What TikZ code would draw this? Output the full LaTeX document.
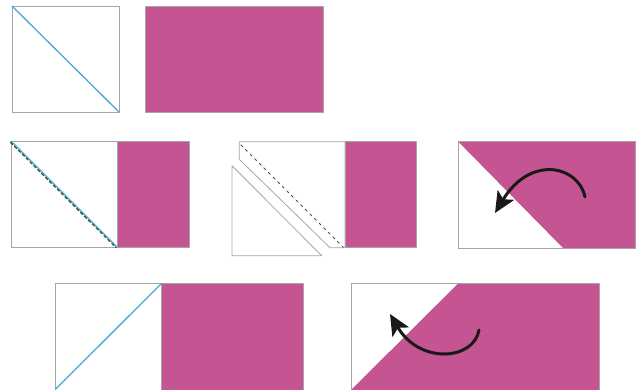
\documentclass[tikz,border=0pt]{standalone}
\usetikzlibrary{arrows.meta}
\definecolor{quiltpink}{RGB}{196,85,146}
\definecolor{seamblue}{RGB}{70,170,205}
\definecolor{edgegray}{RGB}{165,165,165}
\begin{document}
\begin{tikzpicture}[x=1pt,y=-1pt,>={Stealth[length=21pt,width=19pt,inset=5pt]}, line join=round, line cap=round]
				\useasboundingbox (0,0) rectangle (639,389);
				\clip (0,0) rectangle (639,389);
				\tikzset{edge/.style={draw=edgegray,line width=0.8pt},
					fabric/.style={fill=quiltpink,draw=edgegray,line width=0.6pt},
					seam/.style={seamblue,line width=1.3pt},
					flip/.style={->,line width=3pt,black!90}}
				% ro 1: vierkant en rechthoek
				\draw[edge] (12,6) rectangle (119,112);
				\draw[seam] (12,6)--(119,112);
				\draw[fabric] (145,6) rectangle (323,112);
				% ro 2a: gestikt
				\draw[fabric] (117,141) rectangle (189,247);
				\draw[edge] (11,141) rectangle (117,247);
				\draw[black!80,line width=1.3pt,dash pattern=on 3pt off 2.5pt] (10.5,142.3)--(115.8,247.3);
				\draw[seam] (11,141)--(117,247);
				% ro 2b: afgesneden
				\draw[fabric] (345,141.7) rectangle (416,247.7);
				\draw[edge] (239.3,159.3)--(239.3,141.7)--(345,141.7)--(345,247.7)--(330,247.7)--cycle;
				\draw[black!70,line width=1pt,dash pattern=on 2.5pt off 4pt] (241,145)--(343.3,247.3);
				\draw[edge] (232,165.7)--(232,255.7)--(321.7,255.7)--cycle;
				% ro 2c: omvouwen
				\draw[edge,fill=white] (458.3,141.7) rectangle (635,248.3);
				\draw[fabric,draw=none] (458.3,141.7)--(635,141.7)--(635,248.3)--(563.3,248.3)--cycle;
				\draw[edge] (458.3,141.7) rectangle (635,248.3);
				\draw[flip] (585,197) .. controls (578,165) and (530,155) .. (495,213);
				% ro 3a
				\draw[fabric] (161.7,283.3) rectangle (303.3,395);
				\draw[edge] (55.7,283.3) rectangle (161.7,395);
				\draw[seam] (55.7,389)--(161.7,283.3);
				% ro 3b
				\draw[fabric,draw=none] (458.3,283.3)--(599.3,283.3)--(599.3,395)--(346,395)--cycle;
				\draw[edge] (351.7,283.3) rectangle (599.3,395);
				\draw[flip] (479,330) .. controls (474,360) and (420,365) .. (390,314);
\end{tikzpicture}
\end{document}
